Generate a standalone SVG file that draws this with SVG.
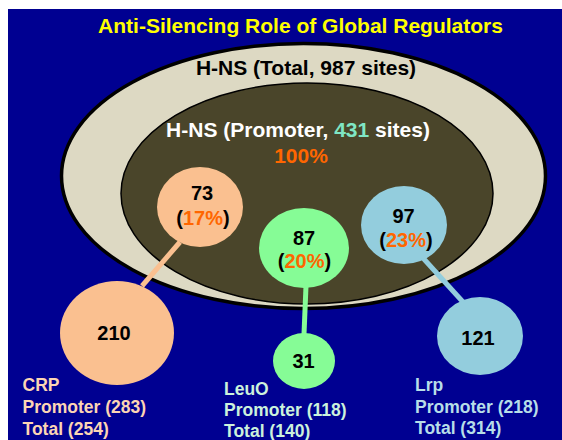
<svg xmlns="http://www.w3.org/2000/svg" width="562" height="440" viewBox="0 0 562 440">
  <style>
    text { font-family: "Liberation Sans", Arial, sans-serif; font-weight: bold; }
    .title { font-size: 21px; fill: #ffff00; text-anchor: middle; }
    .hns { font-size: 21px; text-anchor: middle; }
    .num { font-size: 20px; fill: #000000; text-anchor: middle; }
    .pct { fill: #ff6600; }
    .lab { font-size: 17.5px; }
    .conn { stroke-width: 5; fill: none; }
  </style>
  <rect x="0" y="0" width="562" height="440" fill="#ffffff"/>
  <rect x="8" y="9" width="554" height="431" fill="#000091"/>
  <text class="title" x="300.5" y="33">Anti-Silencing Role of Global Regulators</text>

  <g id="hns-total">
    <ellipse cx="303.5" cy="176" rx="242" ry="132.5" fill="#ddd9c3" stroke="#000000" stroke-width="3.5"/>
    <text class="hns" x="306" y="75" fill="#000000">H-NS (Total, 987 sites)</text>
  </g>

  <g id="hns-promoter">
    <ellipse cx="307" cy="193.5" rx="186" ry="110.5" fill="#4a452a" stroke="#000000" stroke-width="1.5"/>
    <text class="hns" x="298" y="137" fill="#ffffff">H-NS (Promoter, <tspan fill="#7fe6c4">431</tspan> sites)</text>
    <text class="hns" x="301" y="163" fill="#ff6600">100%</text>
  </g>

  <g id="connectors">
    <line class="conn" x1="180" y1="242" x2="142" y2="286" stroke="#fac090"/>
    <line class="conn" x1="306" y1="286" x2="304" y2="334" stroke="#86fc96"/>
    <line class="conn" x1="423" y1="258" x2="463" y2="302" stroke="#93cddd"/>
  </g>

  <g id="crp-hns">
    <ellipse cx="200" cy="207" rx="43" ry="40" fill="#fac090"/>
    <text class="num" x="202" y="200">73</text>
    <text class="num" x="203" y="225">(<tspan class="pct">17%</tspan>)</text>
  </g>
  <g id="crp-total">
    <ellipse cx="117" cy="333" rx="57" ry="52" fill="#fac090"/>
    <text class="num" x="114" y="340">210</text>
  </g>
  <g id="crp-label">
    <text class="lab" fill="#fcd5b4"><tspan x="22.5" y="391">CRP</tspan><tspan x="22.5" y="413">Promoter (283)</tspan><tspan x="22.5" y="434.5">Total (254)</tspan></text>
  </g>

  <g id="leuo-hns">
    <ellipse cx="304" cy="248" rx="45" ry="40" fill="#86fc96"/>
    <text class="num" x="304" y="245">87</text>
    <text class="num" x="304.5" y="268">(<tspan class="pct">20%</tspan>)</text>
  </g>
  <g id="leuo-total">
    <ellipse cx="304" cy="361" rx="31" ry="28" fill="#86fc96"/>
    <text class="num" x="303.5" y="368">31</text>
  </g>
  <g id="leuo-label">
    <text class="lab" fill="#ccf2dc"><tspan x="224" y="395">LeuO</tspan><tspan x="224" y="416">Promoter (118)</tspan><tspan x="224" y="437">Total (140)</tspan></text>
  </g>

  <g id="lrp-hns">
    <ellipse cx="404" cy="225" rx="43" ry="39" fill="#93cddd"/>
    <text class="num" x="403.5" y="223">97</text>
    <text class="num" x="406" y="247">(<tspan class="pct">23%</tspan>)</text>
  </g>
  <g id="lrp-total">
    <ellipse cx="480" cy="336" rx="43" ry="39" fill="#93cddd"/>
    <text class="num" x="478" y="345">121</text>
  </g>
  <g id="lrp-label">
    <text class="lab" fill="#b7dee8"><tspan x="415" y="391">Lrp</tspan><tspan x="415" y="413">Promoter (218)</tspan><tspan x="415" y="434">Total (314)</tspan></text>
  </g>
</svg>
